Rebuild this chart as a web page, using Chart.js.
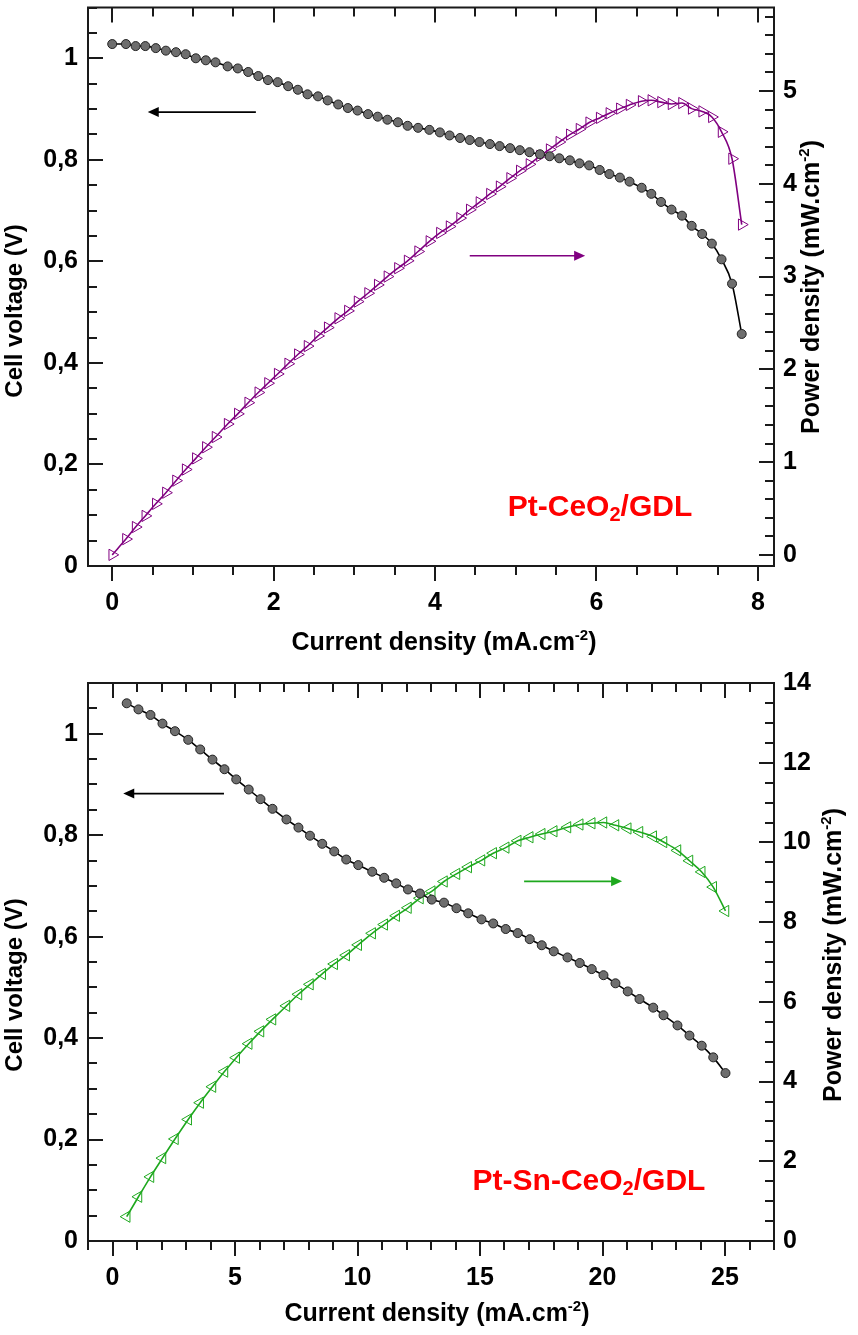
<!DOCTYPE html>
<html>
<head>
<meta charset="utf-8">
<script src="https://cdn.jsdelivr.net/npm/chart.js@4.4.1/dist/chart.umd.min.js"></script>
<style>
  html, body { margin: 0; padding: 0; background: #fff; }
  canvas { display: block; }
</style>
</head>
<body>
<canvas id="chartTop" width="858" height="660"></canvas>
<canvas id="chartBottom" width="858" height="675"></canvas>
<script>
// ---- Pt-CeO2/GDL (top panel) ----
const topCurrent = [0, 0.17, 0.29, 0.41, 0.54, 0.665, 0.79, 0.91, 1.036, 1.16,
    1.28, 1.43, 1.556, 1.685, 1.81, 1.93, 2.05, 2.18, 2.30, 2.42,
    2.55, 2.67, 2.80, 2.92, 3.04, 3.17, 3.29, 3.41, 3.54, 3.66,
    3.79, 3.93, 4.06, 4.18, 4.31, 4.43, 4.55, 4.68, 4.80, 4.93,
    5.05, 5.17, 5.30, 5.42, 5.54, 5.67, 5.79, 5.91, 6.04, 6.16,
    6.29, 6.41, 6.56, 6.68, 6.80, 6.93, 7.06, 7.18, 7.31, 7.43,
    7.55, 7.68, 7.80];
const topVoltage = [1.028, 1.028, 1.024, 1.024, 1.020, 1.015, 1.012, 1.008, 1.000, 0.996,
    0.992, 0.984, 0.980, 0.973, 0.965, 0.957, 0.953, 0.945, 0.938, 0.929,
    0.925, 0.917, 0.909, 0.902, 0.897, 0.890, 0.885, 0.879, 0.874, 0.867,
    0.863, 0.859, 0.854, 0.848, 0.843, 0.839, 0.835, 0.831, 0.827, 0.823,
    0.819, 0.815, 0.811, 0.807, 0.803, 0.799, 0.793, 0.789, 0.780, 0.772,
    0.765, 0.757, 0.745, 0.733, 0.717, 0.702, 0.690, 0.670, 0.654, 0.635,
    0.604, 0.556, 0.457];
const topPower = [0.00, 0.17, 0.30, 0.42, 0.55, 0.67, 0.80, 0.92, 1.04, 1.16,
    1.27, 1.41, 1.52, 1.64, 1.75, 1.85, 1.95, 2.06, 2.16, 2.25,
    2.36, 2.45, 2.55, 2.63, 2.73, 2.82, 2.91, 3.00, 3.09, 3.17,
    3.27, 3.38, 3.47, 3.54, 3.63, 3.72, 3.80, 3.89, 3.97, 4.06,
    4.14, 4.21, 4.30, 4.37, 4.45, 4.53, 4.59, 4.66, 4.71, 4.76,
    4.81, 4.85, 4.89, 4.90, 4.88, 4.86, 4.87, 4.81, 4.78, 4.72,
    4.56, 4.27, 3.56];

// ---- Pt-Sn-CeO2/GDL (bottom panel) ----
const botCurrent = [0.58, 1.06, 1.55, 2.04, 2.55, 3.09, 3.58, 4.08, 4.57, 5.05,
    5.56, 6.04, 6.53, 7.10, 7.59, 8.06, 8.56, 9.05, 9.54, 10.03,
    10.60, 11.09, 11.58, 12.06, 12.55, 13.03, 13.53, 14.04, 14.52, 15.06,
    15.54, 16.05, 16.54, 17.03, 17.52, 18.01, 18.57, 19.07, 19.56, 20.04,
    20.53, 21.03, 21.51, 22.07, 22.49, 23.06, 23.55, 24.05, 24.52, 25.02];
const botVoltage = [1.060, 1.048, 1.037, 1.020, 1.005, 0.988, 0.969, 0.949, 0.930, 0.910,
    0.890, 0.871, 0.852, 0.831, 0.815, 0.799, 0.783, 0.768, 0.752, 0.741,
    0.728, 0.716, 0.705, 0.693, 0.685, 0.673, 0.667, 0.656, 0.646, 0.634,
    0.626, 0.615, 0.607, 0.595, 0.583, 0.571, 0.559, 0.548, 0.536, 0.524,
    0.508, 0.492, 0.477, 0.460, 0.445, 0.425, 0.405, 0.385, 0.362, 0.331];
const botPower = [0.61, 1.11, 1.61, 2.08, 2.56, 3.05, 3.47, 3.87, 4.25, 4.60,
    4.95, 5.26, 5.56, 5.90, 6.19, 6.44, 6.70, 6.95, 7.17, 7.43,
    7.72, 7.94, 8.16, 8.36, 8.60, 8.77, 9.02, 9.21, 9.38, 9.55,
    9.73, 9.87, 10.04, 10.13, 10.21, 10.28, 10.38, 10.45, 10.48, 10.50,
    10.43, 10.35, 10.26, 10.15, 10.01, 9.80, 9.54, 9.26, 8.88, 8.28];

// ---- tick labels ----
const topXTicks = [0, 2, 4, 6, 8];
const voltageTicks = [0, 0.2, 0.4, 0.6, 0.8, 1];
const topPowerTicks = [0, 1, 2, 3, 4, 5];
const botXTicks = [0, 5, 10, 15, 20, 25];
const botPowerTicks = [0, 2, 4, 6, 8, 10, 12, 14];

const FONT = '"Liberation Sans", Arial, sans-serif';
const AXIS_COLOR = '#1a1a1a';

const toPoints = (xs, ys) => xs.map((x, i) => ({ x: x, y: ys[i] }));
const commaLabel = v => String(v).replace('.', ',');

// draw a text made of parts (for super/subscripts), centred on cx
function richText(ctx, parts, cx, baseY, rot, color) {
    ctx.save();
    ctx.translate(cx, baseY);
    ctx.rotate(rot);
    ctx.fillStyle = color;
    ctx.textBaseline = 'alphabetic';
    ctx.textAlign = 'left';
    let total = 0;
    parts.forEach(p => {
        ctx.font = `bold ${p.size}px ${FONT}`;
        p.w = ctx.measureText(p.text).width;
        total += p.w;
    });
    let x = -total / 2;
    parts.forEach(p => {
        ctx.font = `bold ${p.size}px ${FONT}`;
        ctx.fillText(p.text, x, p.dy || 0);
        x += p.w;
    });
    ctx.restore();
}

function arrow(ctx, x1, x2, y, color) {
    const dir = Math.sign(x2 - x1);
    ctx.save();
    ctx.strokeStyle = color;
    ctx.fillStyle = color;
    ctx.lineWidth = 1.6;
    ctx.beginPath();
    ctx.moveTo(x1, y);
    ctx.lineTo(x2 - dir * 8, y);
    ctx.stroke();
    ctx.beginPath();
    ctx.moveTo(x2, y);
    ctx.lineTo(x2 - dir * 11, y - 5);
    ctx.lineTo(x2 - dir * 11, y + 5);
    ctx.closePath();
    ctx.fill();
    ctx.restore();
}

// frame, inward/outward tick marks, titles, label and arrows
const decorPlugin = {
    id: 'decor',
    afterDatasetsDraw(chart, args, o) {
        const ctx = chart.ctx;
        const { left, right, top, bottom } = chart.chartArea;
        const sx = chart.scales.x, sy = chart.scales.y, sy2 = chart.scales.y2;
        const isMajor = (majors, v, step) => majors.some(m => Math.abs(m - v) < step / 10);
        const steps = (scale, step) => {
            const out = [];
            for (let k = Math.ceil(scale.min / step - 1e-9); k <= Math.floor(scale.max / step + 1e-9); k++) out.push(k * step);
            return out;
        };
        ctx.save();
        ctx.strokeStyle = AXIS_COLOR;
        ctx.lineWidth = 2;
        ctx.beginPath();
        steps(sx, o.xMinor).forEach(v => {
            const px = Math.round(sx.getPixelForValue(v));
            const len = isMajor(o.xTicks, v, o.xMinor) ? 15 : 9;
            ctx.moveTo(px, bottom); ctx.lineTo(px, bottom + len);
            ctx.moveTo(px, top); ctx.lineTo(px, top + len);
        });
        steps(sy, o.ylMinor).forEach(v => {
            const py = Math.round(sy.getPixelForValue(v));
            const len = isMajor(o.ylTicks, v, o.ylMinor) ? 15 : 9;
            ctx.moveTo(left, py); ctx.lineTo(left + len, py);
        });
        steps(sy2, o.yrMinor).forEach(v => {
            const py = Math.round(sy2.getPixelForValue(v));
            const len = isMajor(o.yrTicks, v, o.yrMinor) ? 15 : 9;
            ctx.moveTo(right, py); ctx.lineTo(right - len, py);
        });
        ctx.stroke();
        ctx.strokeRect(left, top, right - left, bottom - top);
        ctx.restore();

        // arrows (data coordinates on x and left y)
        o.arrows.forEach(a => {
            arrow(ctx, sx.getPixelForValue(a.from), sx.getPixelForValue(a.to), sy.getPixelForValue(a.v), a.color);
        });

        // axis titles
        const sup = [{ text: '-2', size: 15, dy: -10 }, { text: ')', size: 25 }];
        richText(ctx, [{ text: 'Current density (mA.cm', size: 25 }].concat(sup),
            o.xTitle[0], o.xTitle[1], 0, '#000');
        richText(ctx, [{ text: 'Cell voltage (V)', size: 24 }],
            o.yTitle[0], o.yTitle[1], -Math.PI / 2, '#000');
        richText(ctx, [{ text: 'Power density (mW.cm', size: 25 }].concat(sup),
            o.y2Title[0], o.y2Title[1], -Math.PI / 2, '#000');

        // sample label
        richText(ctx, o.label.parts, o.label.x, o.label.y, 0, '#ff0000');
    }
};

function makeChart(id, c) {
    const tickFont = { family: FONT, size: 25, weight: 'bold' };
    const fixTicks = values => scale => { scale.ticks = values.map(v => ({ value: v })); };
    const noPad = s => { s.paddingTop = 0; s.paddingBottom = 0; s.paddingLeft = 0; s.paddingRight = 0; };
    return new Chart(document.getElementById(id), {
        type: 'line',
        data: {
            datasets: [
                {
                    label: 'Cell voltage',
                    data: toPoints(c.current, c.voltage),
                    yAxisID: 'y',
                    borderColor: '#000',
                    borderWidth: 1.6,
                    cubicInterpolationMode: 'monotone',
                    pointStyle: 'circle',
                    pointRadius: 4.5,
                    pointBackgroundColor: '#6e6e6e',
                    pointBorderColor: '#222',
                    pointBorderWidth: 1
                },
                {
                    label: 'Power density',
                    data: toPoints(c.current, c.power),
                    yAxisID: 'y2',
                    borderColor: c.color,
                    borderWidth: 1.6,
                    cubicInterpolationMode: 'monotone',
                    pointStyle: 'triangle',
                    pointRotation: c.triRot,
                    pointRadius: 6.5,
                    pointBackgroundColor: 'rgba(255,255,255,0)',
                    pointBorderColor: c.color,
                    pointBorderWidth: 1
                }
            ]
        },
        options: {
            responsive: false,
            animation: false,
            events: [],
            layout: { padding: { top: c.padTop, left: 0, right: 0, bottom: 0 } },
            plugins: {
                legend: { display: false },
                tooltip: { enabled: false },
                decor: c.decor
            },
            scales: {
                x: {
                    type: 'linear', position: 'bottom',
                    min: c.xRange[0], max: c.xRange[1],
                    grid: { display: false, drawTicks: false },
                    border: { display: false },
                    afterBuildTicks: fixTicks(c.decor.xTicks),
                    afterFit: s => { s.height = c.xHeight; noPad(s); },
                    ticks: { font: tickFont, color: '#000', padding: 22, autoSkip: false, maxRotation: 0 }
                },
                y: {
                    type: 'linear', position: 'left',
                    min: 0, max: 1.1,
                    grid: { display: false, drawTicks: false },
                    border: { display: false },
                    afterBuildTicks: fixTicks(c.decor.ylTicks),
                    afterFit: s => { s.width = 88; noPad(s); },
                    ticks: { font: tickFont, color: '#000', padding: 10, autoSkip: false, callback: commaLabel }
                },
                y2: {
                    type: 'linear', position: 'right',
                    min: c.yrRange[0], max: c.yrRange[1],
                    grid: { display: false, drawTicks: false },
                    border: { display: false },
                    afterBuildTicks: fixTicks(c.decor.yrTicks),
                    afterFit: s => { s.width = 84; noPad(s); },
                    ticks: { font: tickFont, color: '#000', padding: 9, autoSkip: false }
                }
            }
        },
        plugins: [decorPlugin]
    });
}

makeChart('chartTop', {
    current: topCurrent, voltage: topVoltage, power: topPower,
    color: '#800080', triRot: 90,
    padTop: 7, xHeight: 94,
    xRange: [-0.3, 8.2], yrRange: [-0.12, 5.9],
    decor: {
        xTicks: topXTicks, xMinor: 0.5,
        ylTicks: voltageTicks, ylMinor: 0.05,
        yrTicks: topPowerTicks, yrMinor: 0.2,
        xTitle: [444, 650], yTitle: [22, 311], y2Title: [819, 287],
        label: { x: 600, y: 516, parts: [
            { text: 'Pt-CeO', size: 30 }, { text: '2', size: 20, dy: 5 }, { text: '/GDL', size: 30 }] },
        arrows: [
            { from: 1.78, to: 0.44, v: 0.894, color: '#000' },
            { from: 4.43, to: 5.86, v: 0.611, color: '#800080' }
        ]
    }
});

makeChart('chartBottom', {
    current: botCurrent, voltage: botVoltage, power: botPower,
    color: '#1ea81e', triRot: -90,
    padTop: 23, xHeight: 94,
    xRange: [-1, 27], yrRange: [0, 14],
    decor: {
        xTicks: botXTicks, xMinor: 1,
        ylTicks: voltageTicks, ylMinor: 0.05,
        yrTicks: botPowerTicks, yrMinor: 0.5,
        xTitle: [437, 661], yTitle: [22, 325], y2Title: [841, 295],
        label: { x: 589, y: 530, parts: [
            { text: 'Pt-Sn-CeO', size: 30 }, { text: '2', size: 20, dy: 5 }, { text: '/GDL', size: 30 }] },
        arrows: [
            { from: 4.55, to: 0.44, v: 0.882, color: '#000' },
            { from: 16.8, to: 20.8, v: 0.709, color: '#1ea81e' }
        ]
    }
});
</script>
</body>
</html>
